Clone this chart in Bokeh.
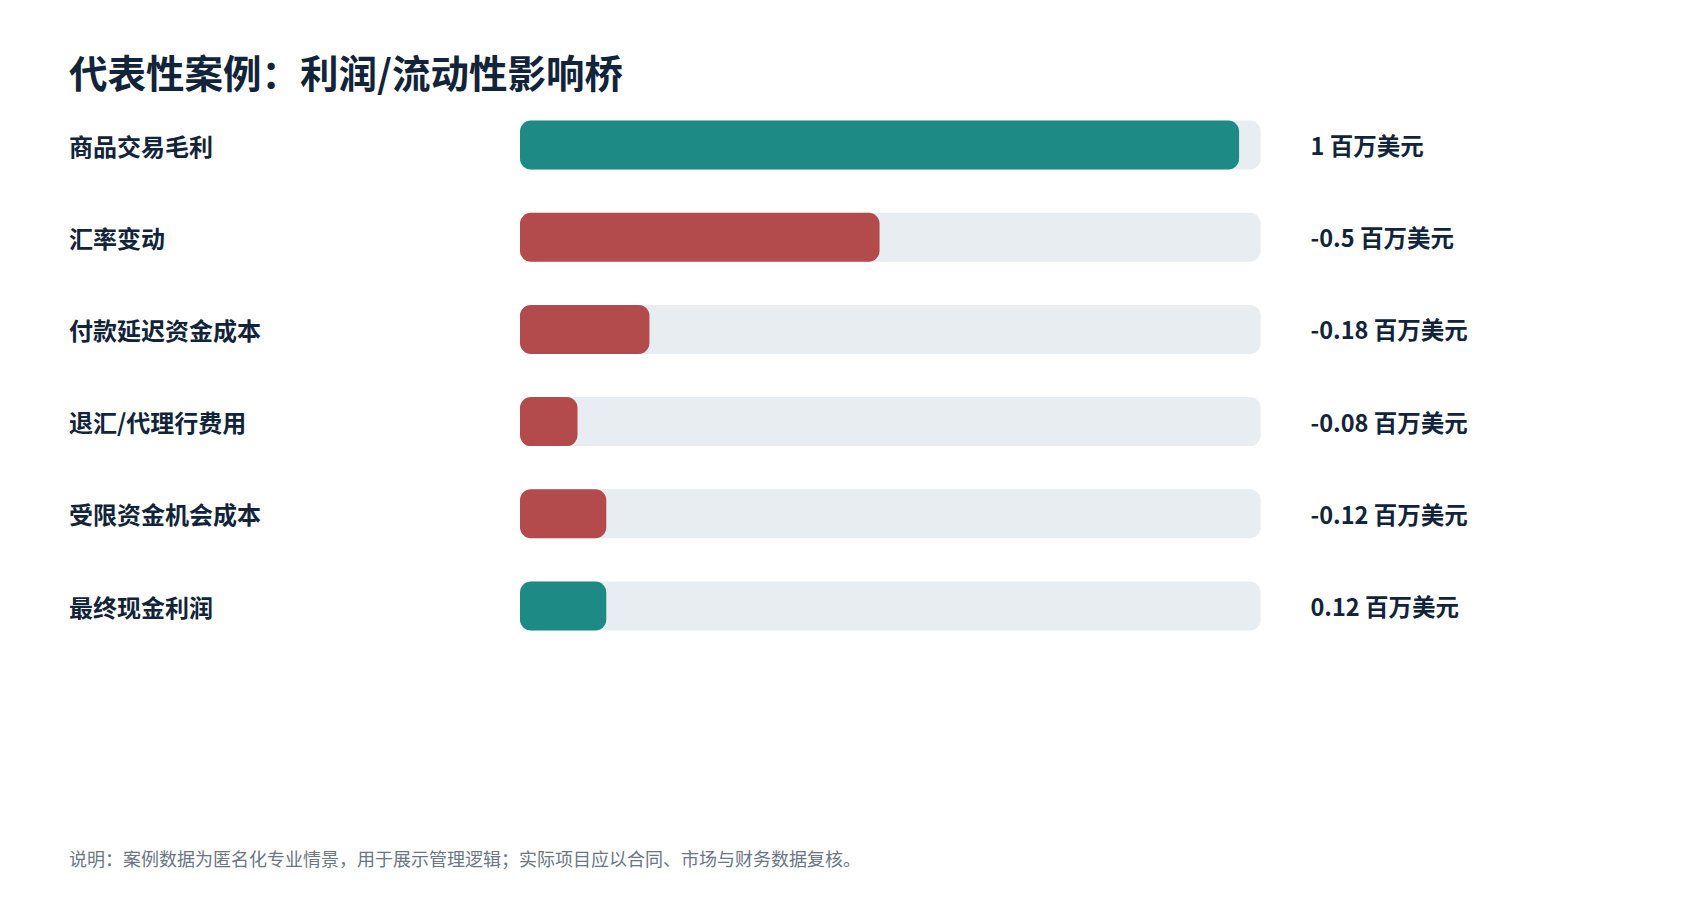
from bokeh.plotting import figure
from bokeh.models import ColumnDataSource, Range1d, Label
from bokeh.core.properties import value
from bokeh.embed import file_html
from bokeh.resources import INLINE

# ---- data ----
categories = ["商品交易毛利", "汇率变动", "付款延迟资金成本", "退汇/代理行费用", "受限资金机会成本", "最终现金利润"]
values = [1, -0.5, -0.18, -0.08, -0.12, 0.12]
value_labels = ["1 百万美元", "-0.5 百万美元", "-0.18 百万美元", "-0.08 百万美元", "-0.12 百万美元", "0.12 百万美元"]
track_max = 1.03
title_text = "代表性案例：利润/流动性影响桥"
note_text = "说明：案例数据为匿名化专业情景，用于展示管理逻辑；实际项目应以合同、市场与财务数据复核。"

POS = "#1e8a86"
NEG = "#b34a4b"
TRACK = "#e8edf1"
DARK = "#12243a"
GREY = "#6b7684"
FONT = "Noto Sans CJK SC"

W, H = 1684, 884
px_per_unit = 719.1
x0_px = 519.5
row0_px = 144.5
row_px = 92.2

x_start = -x0_px / px_per_unit
x_end = (W - x0_px) / px_per_unit
y_top = -row0_px / row_px
y_bot = (H - row0_px) / row_px

rows = list(range(len(categories)))
src = ColumnDataSource(dict(
    y=rows,
    cat=categories,
    val=values,
    absval=[abs(v) for v in values],
    color=[POS if v >= 0 else NEG for v in values],
    lab=value_labels,
    track=[track_max] * len(values),
    lx=[(68.5 - x0_px) / px_per_unit] * len(values),
    vx=[(1310.0 - x0_px) / px_per_unit] * len(values),
))

p = figure(width=W, height=H, output_backend="svg", toolbar_location=None,
           x_range=Range1d(x_start, x_end), y_range=Range1d(y_bot, y_top),
           min_border=0, outline_line_color=None, background_fill_color="white",
           border_fill_color="white")
p.axis.visible = False
p.grid.visible = False

bar_h = 49.0 / row_px
p.hbar(y="y", left=0, right="track", height=bar_h, source=src,
       fill_color=TRACK, line_color=None, border_radius=11)
p.hbar(y="y", left=0, right="absval", height=bar_h, source=src,
       fill_color="color", line_color=None, border_radius=11)

p.text(x="lx", y="y", text="cat", source=src, text_font=value(FONT),
       text_font_style="bold", text_font_size="24px", text_color=DARK,
       text_baseline="middle", text_align="left")
p.text(x="vx", y="y", text="lab", source=src, text_font=value(FONT),
       text_font_style="bold", text_font_size="23.5px", text_color=DARK,
       text_baseline="middle", text_align="left")

p.add_layout(Label(x=68.5, y=H - 42, x_units="screen", y_units="screen", text=title_text,
                   text_font=FONT, text_font_style="bold", text_font_size="38.5px",
                   text_color=DARK, text_baseline="top", text_align="left"))
p.add_layout(Label(x=68.5, y=H - 857, x_units="screen", y_units="screen", text=note_text,
                   text_font=FONT, text_font_size="18px",
                   text_color=GREY, text_baseline="middle", text_align="left"))

open("out.html", "w").write(file_html(p, INLINE))
